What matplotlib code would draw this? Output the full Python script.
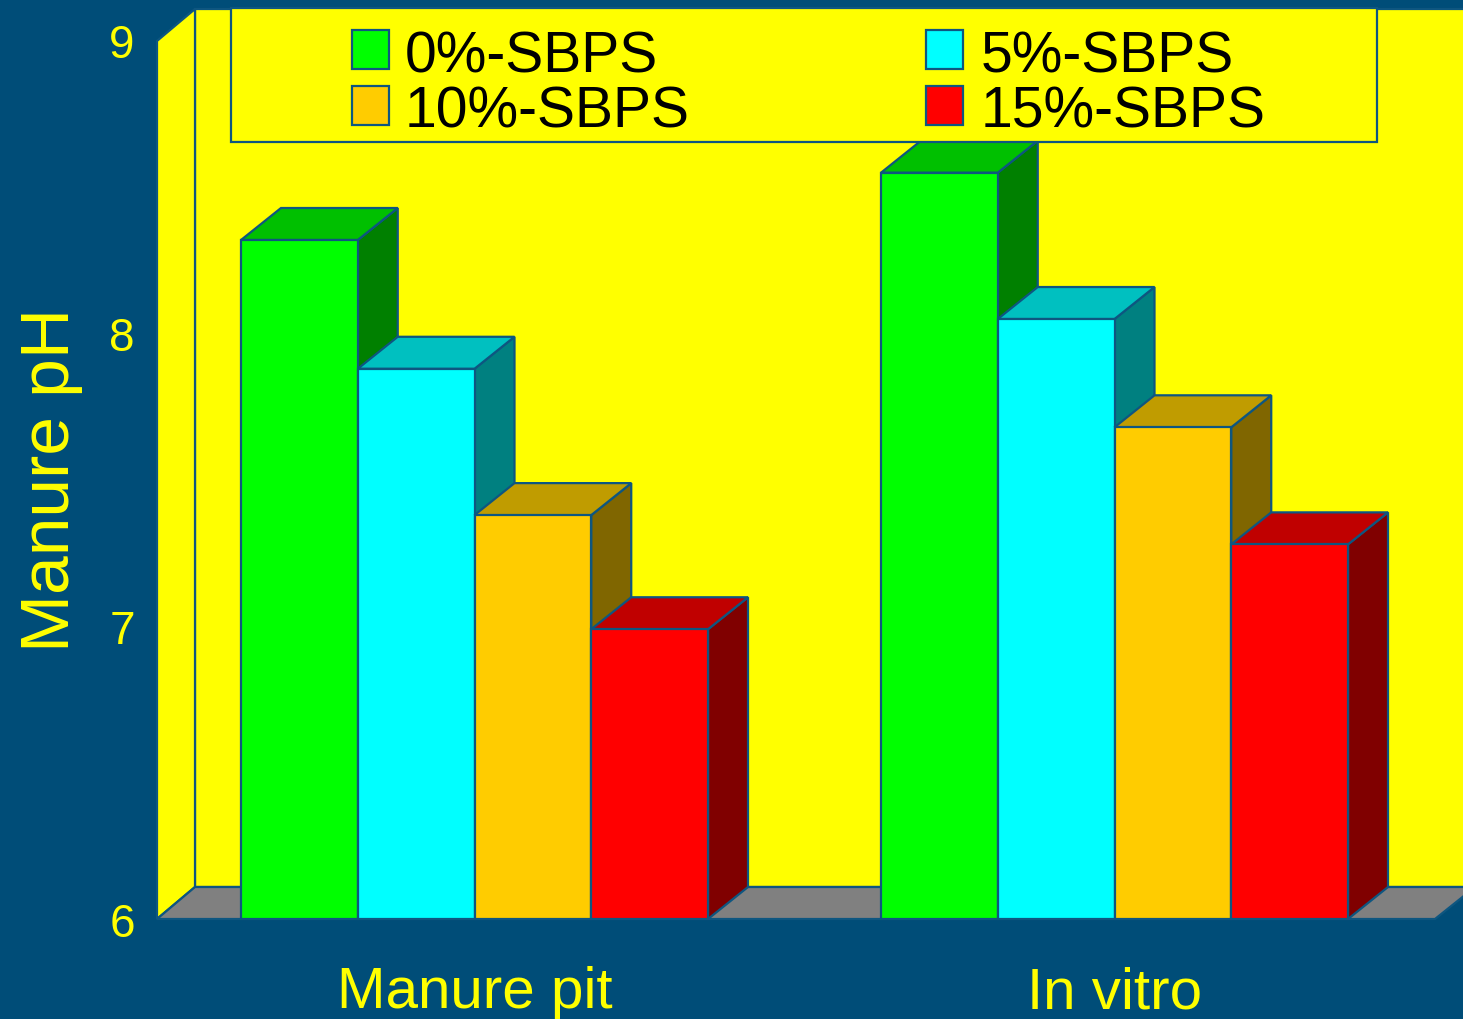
import matplotlib
matplotlib.use("Agg")
import matplotlib.pyplot as plt
from matplotlib.patches import Polygon, Rectangle

plt.rcParams["font.family"] = ["Liberation Sans", "DejaVu Sans"]

# ---- data -------------------------------------------------------------
groups = ["Manure pit", "In vitro"]
series = ["0%-SBPS", "5%-SBPS", "10%-SBPS", "15%-SBPS"]
manure_pit = [8.32, 7.88, 7.38, 6.99]
in_vitro = [8.55, 8.05, 7.68, 7.28]
y_ticks = [6, 7, 8, 9]
y_label = "Manure pH"

# ---- style ------------------------------------------------------------
face_colors = ["#00FF00", "#00FFFF", "#FFCC00", "#FF0000"]
top_colors = ["#00C000", "#00C0C0", "#C09C00", "#C00000"]
side_colors = ["#008000", "#008080", "#806600", "#800000"]
BG = "#004D78"
EDGE = "#0E5680"
WALL = "#FFFF00"
FLOOR = "#808080"
TEXT = "#FFFF00"
LW = 1.6

W, H = 1463, 1020
fig = plt.figure(figsize=(W / 100, H / 100), dpi=100, facecolor=BG)
ax = fig.add_axes([0, 0, 1, 1])
ax.set_axis_off()
ax.set_facecolor(BG)

# vertical scale: pH units mapped onto pixel rows (row 0 = top)
PX_PER_UNIT = 292.67
ROW_BASE = 920


def ph_at(row):
    return 6 + (ROW_BASE - row) / PX_PER_UNIT


ax.set_xlim(0, W)
ax.set_ylim(ph_at(H), ph_at(0))

YMIN, YMAX = y_ticks[0], y_ticks[-1]
DX = 40                      # depth offset, horizontal
DY = 32 / PX_PER_UNIT        # depth offset, vertical

# ---- walls and floor --------------------------------------------------
x_front, x_back = 157, 195
ax.add_patch(Rectangle((x_back, YMIN + DY), W + 10 - x_back, YMAX - YMIN,
                       facecolor=WALL, edgecolor=EDGE, lw=LW, zorder=1))
ax.add_patch(Polygon([(x_front, YMIN), (x_front, YMAX), (x_back, YMAX + DY),
                      (x_back, YMIN + DY)], closed=True,
                     facecolor=WALL, edgecolor=EDGE, lw=LW, zorder=1))
floor_right = 1435
ax.add_patch(Polygon([(x_front, YMIN), (floor_right, YMIN),
                      (floor_right + DX, YMIN + DY), (x_back, YMIN + DY)],
                     closed=True, facecolor=FLOOR, edgecolor=EDGE, lw=LW,
                     zorder=2))

# ---- 3D bars ----------------------------------------------------------
bar_w = 116.75
group_start = [241, 881]
z = 3
for gi, vals in enumerate([manure_pit, in_vitro]):
    for si, v in enumerate(vals):
        x0 = group_start[gi] + si * bar_w
        x1 = x0 + bar_w
        ax.add_patch(Polygon([(x1, YMIN), (x1 + DX, YMIN + DY),
                              (x1 + DX, v + DY), (x1, v)], closed=True,
                             facecolor=side_colors[si], edgecolor=EDGE,
                             lw=LW, joinstyle="miter", zorder=z))
        ax.add_patch(Polygon([(x0, v), (x1, v), (x1 + DX, v + DY),
                              (x0 + DX, v + DY)], closed=True,
                             facecolor=top_colors[si], edgecolor=EDGE,
                             lw=LW, joinstyle="miter", zorder=z))
        ax.add_patch(Rectangle((x0, YMIN), bar_w, v - YMIN,
                               facecolor=face_colors[si], edgecolor=EDGE,
                               lw=LW, joinstyle="miter", zorder=z))
        z += 1
    ax.text(group_start[gi] + 2 * bar_w, ph_at(1008), groups[gi],
            color=TEXT, fontsize=42, ha="center", va="baseline", zorder=20)

# ---- axis labels ------------------------------------------------------
digit_half = 16.5 / PX_PER_UNIT
for t in y_ticks:
    ax.text(122, t - digit_half, str(t), color=TEXT, fontsize=33,
            ha="center", va="baseline", zorder=20)
ax.text(69, ph_at(480), y_label, color=TEXT, fontsize=50, rotation=90,
        rotation_mode="anchor", ha="center", va="baseline", zorder=20)

# ---- legend -----------------------------------------------------------
ax.add_patch(Rectangle((231, ph_at(143)), 1377 - 231, ph_at(9) - ph_at(143),
                       facecolor=WALL, edgecolor=EDGE, lw=LW, zorder=30))
sw_x = [352, 926]
tx_x = [405, 981]
row_top = [31, 87]
row_base = [72, 127]
for si, name in enumerate(series):
    col, row = si % 2, si // 2
    ax.add_patch(Rectangle((sw_x[col], ph_at(row_top[row] + 39)), 37,
                           ph_at(row_top[row]) - ph_at(row_top[row] + 39),
                           facecolor=face_colors[si], edgecolor=EDGE, lw=LW,
                           zorder=31))
    ax.text(tx_x[col], ph_at(row_base[row]), name, color="black",
            fontsize=41, ha="left", va="baseline", zorder=31)

fig.savefig("out.png", dpi=100, facecolor=BG)
